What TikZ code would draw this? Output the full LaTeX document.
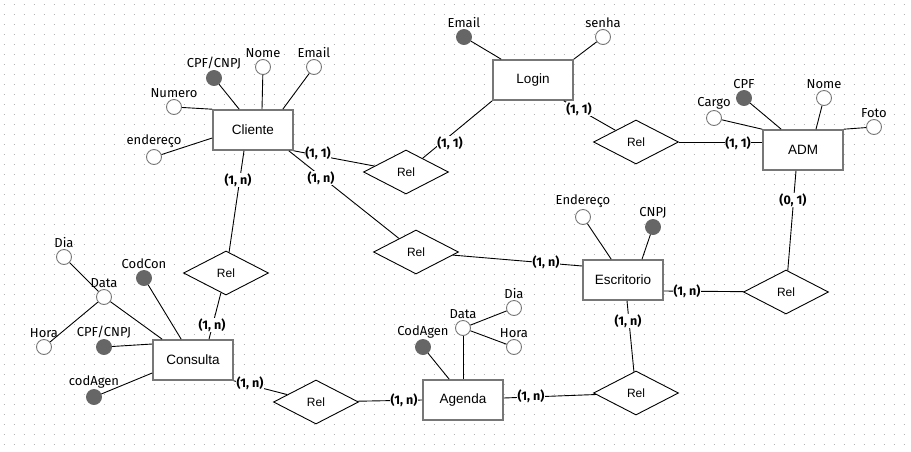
\documentclass[tikz,border=0pt]{standalone}
\usepackage{fontspec}
\setmainfont{Fira Sans}
\newfontfamily\arialf{Liberation Sans}
\usetikzlibrary{shapes.geometric}

\definecolor{borda}{HTML}{777777}
\definecolor{chavecor}{HTML}{666666}
\definecolor{pontos}{HTML}{B4B4B4}

\tikzset{
  entidade/.style={draw=borda, line width=1.6pt, fill=white, minimum width=80pt, minimum height=40pt, inner sep=0pt, font=\arialf\fontsize{13.5}{16}\selectfont},
  rel/.style={diamond, draw, line width=0.9pt, fill=white, minimum width=85pt, minimum height=44pt, inner sep=0pt, font=\arialf\fontsize{12}{14}\selectfont},
  rotulo/.style={inner sep=1pt, font=\fontsize{13}{15}\selectfont},
  atrib/.style={circle, draw=borda, line width=0.9pt, fill=white, minimum size=15pt, inner sep=0pt, label={[rotulo]above:#1}},
  chave/.style={atrib=#1, fill=chavecor, draw=chavecor},
  card/.style={fill=white, inner sep=0.5pt, font=\bfseries\fontsize{12.5}{15}\selectfont},
  liga/.style={line width=0.9pt},
}

\begin{document}
\begin{tikzpicture}[x=1pt, y=-1pt]
  % fundo pontilhado
  \fill[white] (0,0) rectangle (911,451);
  \useasboundingbox (0,0) rectangle (911,451);
  \foreach \y in {4,14,...,444}
    \draw[pontos, line width=1pt, dash pattern=on 1pt off 9pt] (3.5,\y) -- (911,\y);

  % entidades
  \node[entidade] (cliente) at (253,130) {Cliente};
  \node[entidade] (login) at (533,80) {Login};
  \node[entidade] (adm) at (803,150) {ADM};
  \node[entidade] (consulta) at (193,360) {Consulta};
  \node[entidade] (escritorio) at (623,280) {Escritorio};
  \node[entidade] (agenda) at (463,400) {Agenda};

  % relacionamentos
  \node[rel] (r1) at (406,172) {Rel};
  \node[rel] (r2) at (636,142) {Rel};
  \node[rel] (r3) at (416,252) {Rel};
  \node[rel] (r4) at (226,273) {Rel};
  \node[rel] (r5) at (316,402) {Rel};
  \node[rel] (r6) at (636,393) {Rel};
  \node[rel] (r7) at (786,292) {Rel};

  % atributos - Cliente
  \node[chave=CPF/CNPJ] (cpfCli) at (214,78) {};
  \node[atrib=Nome] (nomeCli) at (263,67) {};
  \node[atrib=Email] (emailCli) at (314,67) {};
  \node[atrib=Numero] (numCli) at (174,107) {};
  \node[atrib=endereço] (endCli) at (154,157) {};
  \draw[liga] (cpfCli) -- ([xshift=27pt]cliente.north west);
  \draw[liga] (nomeCli) -- ([xshift=9pt]cliente.north);
  \draw[liga] (emailCli) -- ([xshift=-11pt]cliente.north east);
  \draw[liga] (numCli) -- (cliente.north west);
  \draw[liga] (endCli) -- ([yshift=-8pt]cliente.west);

  % atributos - Login
  \node[chave=Email] (emailLog) at (464,37) {};
  \node[atrib=senha] (senhaLog) at (603,37) {};
  \draw[liga] (emailLog) -- ([xshift=9pt]login.north west);
  \draw[liga] (senhaLog) -- (login.north east);

  % atributos - ADM
  \node[chave=CPF] (cpfAdm) at (744,98) {};
  \node[atrib=Nome] (nomeAdm) at (824,98) {};
  \node[atrib=Cargo] (cargoAdm) at (714,118) {};
  \node[atrib=Foto] (fotoAdm) at (874,127) {};
  \draw[liga] (cpfAdm) -- ([xshift=19pt]adm.north west);
  \draw[liga] (nomeAdm) -- ([xshift=13pt]adm.north);
  \draw[liga] (cargoAdm) -- (adm.north west);
  \draw[liga] (fotoAdm) -- (adm.north east);

  % atributos - Consulta
  \node[atrib=Dia] (diaCon) at (64,257) {};
  \node[atrib=Data] (dataCon) at (104,297) {};
  \node[atrib=Hora] (horaCon) at (44,347) {};
  \node[chave=CodCon] (codCon) at (144,278) {};
  \node[chave=CPF/CNPJ] (cpfCon) at (104,347) {};
  \node[chave=codAgen] (agenCon) at (94,397) {};
  \draw[liga] (diaCon) -- (dataCon);
  \draw[liga] (horaCon) -- (dataCon);
  \draw[liga] (dataCon) -- ([xshift=10pt]consulta.north west);
  \draw[liga] (codCon) -- ([xshift=29pt]consulta.north west);
  \draw[liga] (cpfCon) -- ([yshift=16pt]consulta.west);
  \draw[liga] (agenCon) -- ([yshift=-13pt]consulta.west);

  % atributos - Escritorio
  \node[atrib=Endereço] (endEsc) at (583,217) {};
  \node[chave=CNPJ] (cnpjEsc) at (653,227) {};
  \draw[liga] (endEsc) -- ([xshift=29pt]escritorio.north west);
  \draw[liga] (cnpjEsc) -- ([xshift=19pt]escritorio.north);

  % atributos - Agenda
  \node[chave=CodAgen] (codAge) at (423,347) {};
  \node[atrib=Data] (dataAge) at (463,328) {};
  \node[atrib=Dia] (diaAge) at (514,308) {};
  \node[atrib=Hora] (horaAge) at (514,347) {};
  \draw[liga] (codAge) -- ([xshift=27pt]agenda.north west);
  \draw[liga] (dataAge) -- (agenda.north);
  \draw[liga] (dataAge) -- (diaAge);
  \draw[liga] (dataAge) -- (horaAge);

  % ligacoes
  \draw[liga] (cliente.south east) -- (r1);
  \draw[liga] ([xshift=-5pt]cliente.south east) -- (r3);
  \draw[liga] ([xshift=-9pt]cliente.south) -- (r4);
  \draw[liga] (login.south west) -- (r1);
  \draw[liga] ([xshift=-10pt]login.south east) -- (r2);
  \draw[liga] (r2) -- ([yshift=8pt]adm.west);
  \draw[liga] ([xshift=-7pt]adm.south) -- (r7);
  \draw[liga] ([yshift=-11pt]escritorio.east) -- (r7);
  \draw[liga] ([yshift=14pt]escritorio.west) -- (r3);
  \draw[liga] ([xshift=4pt]escritorio.south) -- (r6);
  \draw[liga] ([yshift=2pt]agenda.east) -- (r6);
  \draw[liga] (agenda.west) -- (r5);
  \draw[liga] (consulta.south east) -- (r5);
  \draw[liga] ([xshift=16pt]consulta.north) -- (r4);

  % cardinalidades
  \node[card] (k1) at (318,153) {(1, 1)};
  \node[card] (k2) at (321,178) {(1, n)};
  \node[card] (k3) at (238,180) {(1, n)};
  \node[card] (k4) at (450,143) {(1, 1)};
  \node[card] (k5) at (579,109) {(1, 1)};
  \node[card] (k6) at (738,143) {(1, 1)};
  \node[card] (k7) at (793,200) {(0, 1)};
  \node[card] (k8) at (687,291) {(1, n)};
  \node[card] (k9) at (546,262) {(1, n)};
  \node[card] (k10) at (628,321) {(1, n)};
  \node[card] (k11) at (531,396) {(1, n)};
  \node[card] (k12) at (404,400) {(1, n)};
  \node[card] (k13) at (250,383) {(1, n)};
  \node[card] (k14) at (212,325) {(1, n)};
\end{tikzpicture}
\end{document}
